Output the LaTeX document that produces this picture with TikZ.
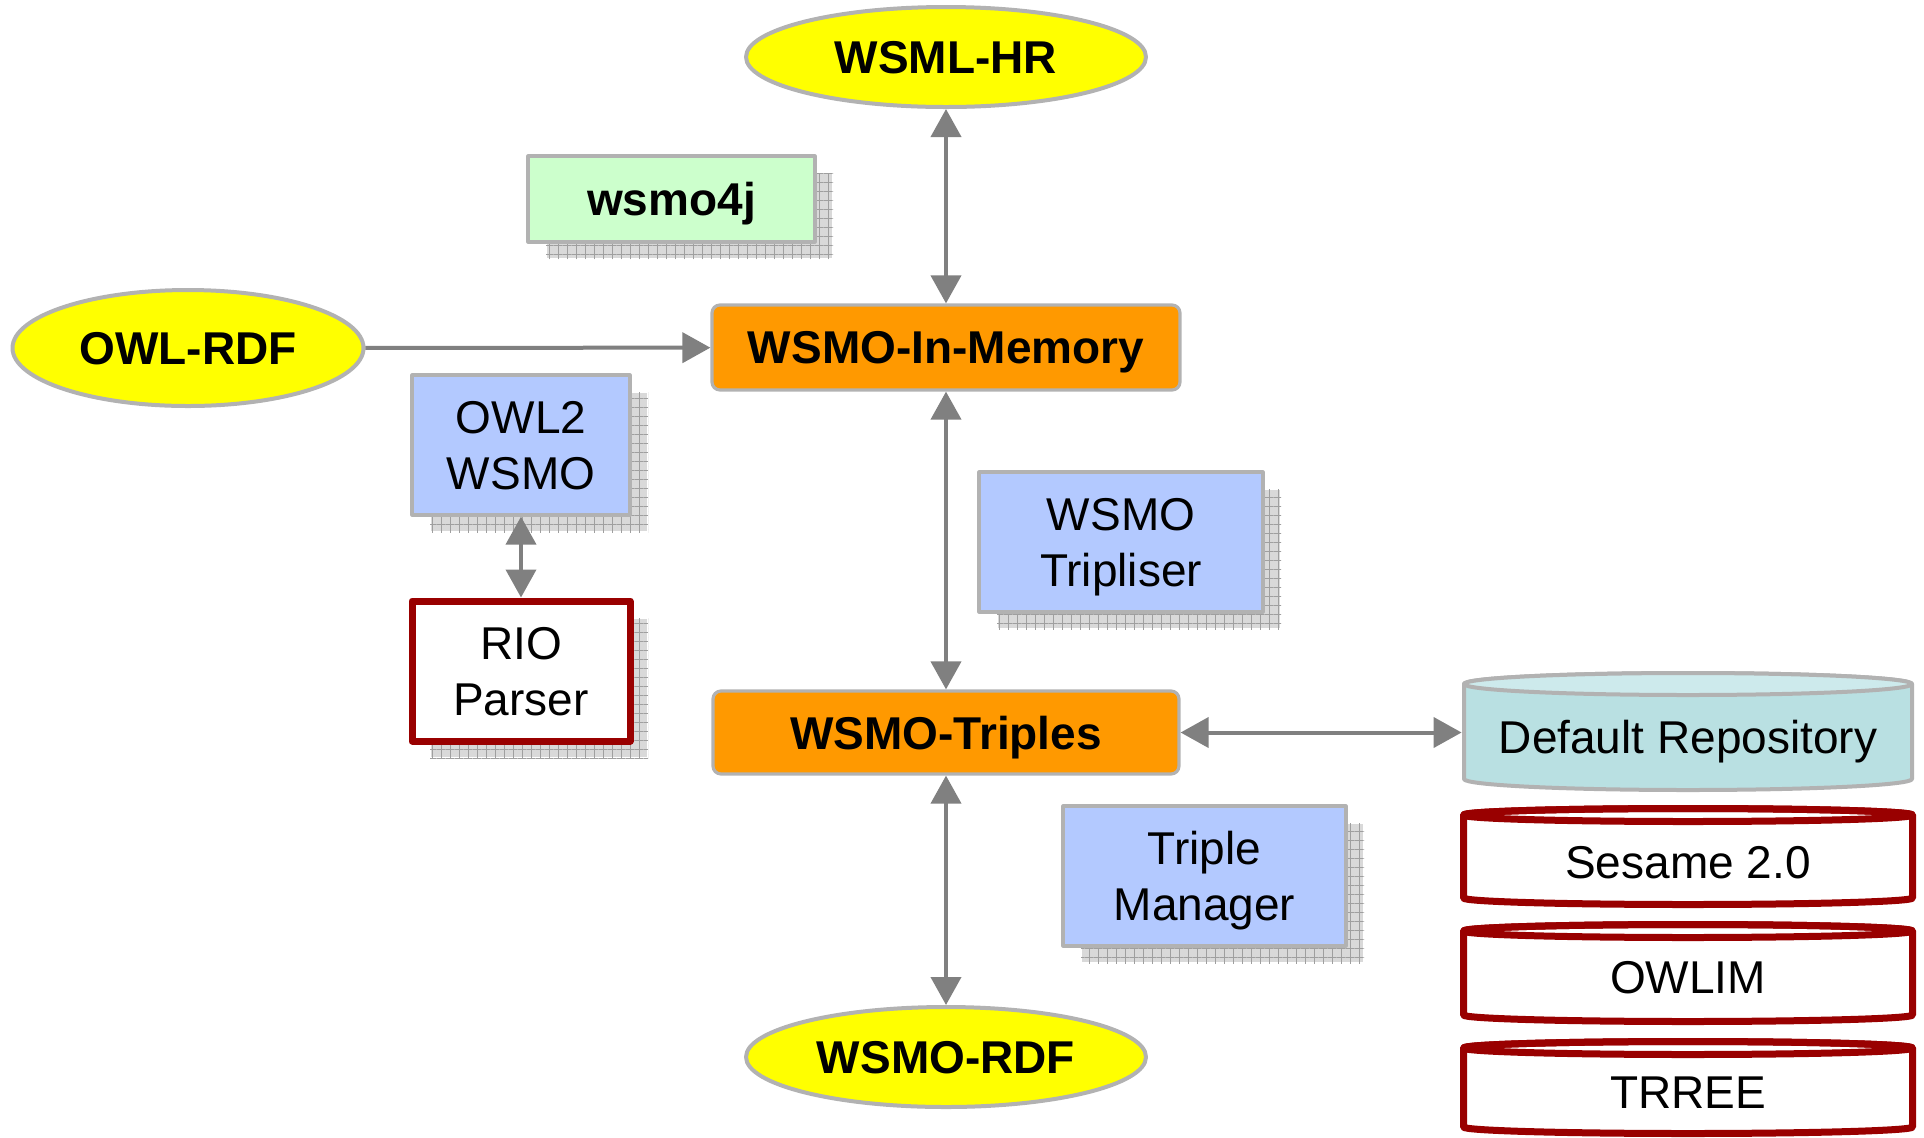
\documentclass[tikz,border=0pt]{standalone}
\usepackage{fontspec}
\setmainfont{Liberation Sans}
\usetikzlibrary{shapes.geometric,arrows.meta,shadows,patterns.meta}

\definecolor{langyellow}{RGB}{255,255,0}
\definecolor{linegray}{RGB}{178,178,178}
\definecolor{arrowgray}{RGB}{128,128,128}
\definecolor{coreorange}{RGB}{255,153,0}
\definecolor{toolblue}{RGB}{179,201,255}
\definecolor{apigreen}{RGB}{204,255,204}
\definecolor{storered}{RGB}{153,0,0}
\definecolor{repobody}{RGB}{185,224,226}
\definecolor{repotop}{RGB}{205,234,236}

\tikzset{
  gridshadow/.style={general shadow={shadow xshift=9pt,shadow yshift=-8.5pt,
      fill=gray!30,draw=white,line width=0.6pt,
      postaction={pattern={Hatch[angle=0,distance=4.5pt,line width=0.5pt]},pattern color=gray!75}}},
  lang/.style={ellipse,draw=linegray,line width=2pt,fill=langyellow,inner sep=0pt,
      text depth=0pt,font=\bfseries},
  core/.style={rectangle,rounded corners=4pt,draw=linegray,line width=1.6pt,fill=coreorange,
      inner sep=0pt,text depth=0pt,font=\bfseries},
  tool/.style={rectangle,draw=linegray,line width=1.6pt,fill=toolblue,inner sep=0pt,
      align=center,text depth=0pt,gridshadow},
  store/.style={inner sep=0pt,align=center,text depth=0pt},
  link/.style={draw=arrowgray,line width=2pt,
      {Triangle[length=14pt,width=15pt]}-{Triangle[length=14pt,width=15pt]}},
  feed/.style={draw=arrowgray,line width=2pt,-{Triangle[length=14pt,width=15pt]}},
}

\begin{document}
\fontsize{23}{28}\selectfont
\begin{tikzpicture}[x=0.5pt,y=-0.5pt,line join=round]
\useasboundingbox (0,0) rectangle (1924,1137);

%Shape: Can [Default Repository]
\path[fill=repobody,draw=linegray,line width=2pt] (1464,684) -- (1464,779) arc[start angle=180,end angle=0,x radius=224,y radius=11] -- (1912,684) arc[start angle=0,end angle=-180,x radius=224,y radius=11] -- cycle;
\draw[fill=repotop,draw=linegray,line width=2pt] (1688,684) ellipse[x radius=224,y radius=11];
%Shape: Can [Sesame 2.0]
\path[fill=white,draw=storered,line width=3.5pt] (1463.5,815) -- (1463.5,898) arc[start angle=180,end angle=0,x radius=224.5,y radius=6.5] -- (1912.5,815) arc[start angle=0,end angle=-180,x radius=224.5,y radius=6.5] -- cycle;
\draw[draw=storered,line width=3.5pt] (1688,815) ellipse[x radius=224.5,y radius=6.5];
%Shape: Can [OWLIM]
\path[fill=white,draw=storered,line width=3.5pt] (1463.5,931) -- (1463.5,1015) arc[start angle=180,end angle=0,x radius=224.5,y radius=6.5] -- (1912.5,931) arc[start angle=0,end angle=-180,x radius=224.5,y radius=6.5] -- cycle;
\draw[draw=storered,line width=3.5pt] (1688,931) ellipse[x radius=224.5,y radius=6.5];
%Shape: Can [TRREE]
\path[fill=white,draw=storered,line width=3.5pt] (1463.5,1048) -- (1463.5,1127) arc[start angle=180,end angle=0,x radius=224.5,y radius=6.5] -- (1912.5,1048) arc[start angle=0,end angle=-180,x radius=224.5,y radius=6.5] -- cycle;
\draw[draw=storered,line width=3.5pt] (1688,1048) ellipse[x radius=224.5,y radius=6.5];

% Text Node
\node[store,minimum width=226pt] (repo) at (1688,737) {Default Repository};
\node[store] (sesame) at (1688,862) {Sesame 2.0};
\node[store] (owlim) at (1688,977) {OWLIM};
\node[store] (trree) at (1688,1093) {TRREE};

%Ellipses
\node[lang,minimum width=200pt,minimum height=50pt] (hr) at (946,57) {WSML-HR};
\node[lang,minimum width=175.5pt,minimum height=58pt] (owlrdf) at (188,348) {OWL-RDF};
\node[lang,minimum width=200pt,minimum height=50pt] (rdf) at (946,1057) {WSMO-RDF};

%Rectangles
\node[core,minimum width=234pt,minimum height=42.5pt] (mem) at (946,347.5) {WSMO-In-Memory};
\node[core,minimum width=233pt,minimum height=41.5pt] (triples) at (946,732.5) {WSMO-Triples};
\node[tool,fill=apigreen,font=\bfseries,minimum width=143.5pt,minimum height=43pt] (wsmo4j) at (671.5,199) {wsmo4j};
\node[tool,minimum width=109pt,minimum height=70pt] (owl2) at (521,445) {OWL2\\WSMO};
\node[tool,fill=white,draw=storered,line width=3.5pt,minimum width=109pt,minimum height=70pt] (rio) at (521,671) {RIO\\Parser};
\node[tool,minimum width=142pt,minimum height=70pt] (tripliser) at (1121,542) {WSMO\\Tripliser};
\node[tool,minimum width=141.5pt,minimum height=70pt] (manager) at (1204.5,876) {Triple\\Manager};

%Straight Lines
\draw[link] (hr) -- (mem);
\draw[link] (mem) -- (triples);
\draw[link] (triples) -- (rdf);
\draw[link] (triples.east) -- (triples.east -| repo.west);
\draw[feed] (owlrdf) -- (mem);
\draw[link] (owl2) -- (rio);

\end{tikzpicture}
\end{document}
